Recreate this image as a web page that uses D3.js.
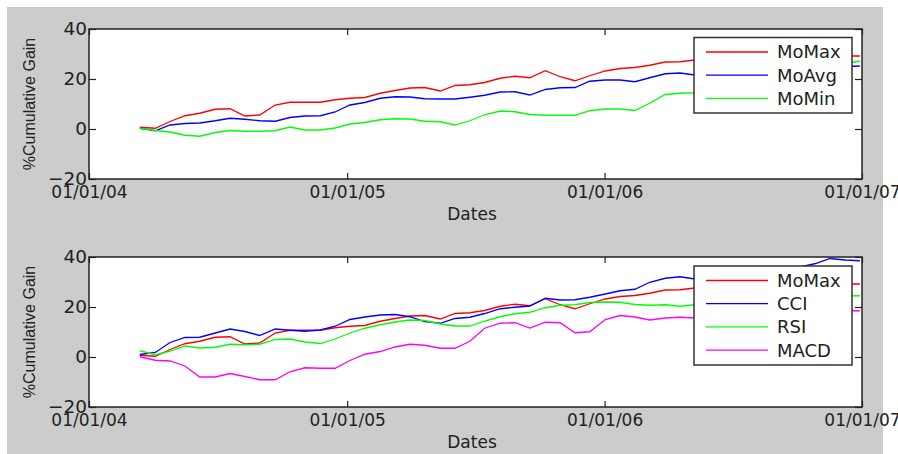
<!DOCTYPE html>
<html><head><meta charset="utf-8">
<script src="https://cdn.jsdelivr.net/npm/d3@7"></script>
<style>html,body{margin:0;padding:0;background:#fff;} svg{display:block;}</style>
</head><body><svg id="chart" width="898" height="454"></svg>
<script>
const dates = ["2004-03-13","2004-04-04","2004-04-25","2004-05-16","2004-06-06","2004-06-28","2004-07-19","2004-08-09","2004-08-30","2004-09-21",
"2004-10-12","2004-11-02","2004-11-24","2004-12-15","2005-01-05","2005-01-26","2005-02-17","2005-03-10","2005-03-31","2005-04-21",
"2005-05-13","2005-06-03","2005-06-24","2005-07-15","2005-08-06","2005-08-27","2005-09-17","2005-10-09","2005-10-30","2005-11-20",
"2005-12-11","2006-01-02","2006-01-23","2006-02-13","2006-03-06","2006-03-28","2006-04-18","2006-05-09","2006-05-31","2006-06-21",
"2006-07-12","2006-08-02","2006-08-24","2006-09-14","2006-10-05","2006-10-26","2006-11-17","2006-12-08","2006-12-29"];

const moMax = [0.7,0.3,3.0,5.3,6.3,7.9,8.1,5.2,5.6,9.6,10.7,10.7,10.7,11.7,12.3,12.6,14.3,15.4,16.4,16.6,
15.2,17.4,17.7,18.6,20.3,21.1,20.5,23.3,20.9,19.3,21.3,23.2,24.2,24.6,25.5,26.8,26.9,27.6,27.8,28.2,
27.9,28.4,28.8,28.6,29.0,29.3,28.9,29.2,29.2];
const moAvg = [0.3,-0.7,1.6,2.2,2.4,3.3,4.3,3.9,3.3,3.1,4.6,5.2,5.3,6.8,9.6,10.6,12.3,12.9,12.8,12.1,
12.0,12.0,12.7,13.5,14.8,14.9,13.6,15.8,16.5,16.6,19.1,19.6,19.6,18.9,20.5,22.1,22.4,21.6,21.9,22.6,
22.3,23.0,23.4,23.2,23.8,24.3,24.6,25.0,25.2];
const moMin = [0.3,-0.6,-1.2,-2.5,-2.9,-1.4,-0.6,-0.9,-0.9,-0.7,0.8,-0.4,-0.4,0.4,2.0,2.6,3.7,4.1,4.0,3.1,
2.9,1.6,3.3,5.7,7.2,6.9,5.8,5.5,5.5,5.5,7.3,8.0,8.0,7.4,10.3,13.8,14.3,14.5,15.5,17.0,
18.2,19.0,20.5,21.6,22.8,24.0,25.2,26.3,27.1];
const cci = [1.0,1.8,5.8,7.8,7.9,9.6,11.2,10.2,8.6,11.2,10.7,10.3,10.8,12.3,15.0,16.0,16.8,17.0,16.1,14.2,
13.5,15.4,15.9,17.4,19.3,19.9,20.4,23.5,22.8,22.9,23.9,25.2,26.5,27.1,29.9,31.5,32.1,31.2,31.8,32.5,
33.2,33.8,34.6,35.3,36.0,37.3,39.4,38.8,38.5];
const rsi = [2.5,0.9,2.3,4.4,3.6,3.9,5.1,4.9,5.1,7.0,7.2,6.0,5.4,7.2,9.6,11.5,12.9,14.0,14.8,14.6,
13.2,12.4,12.4,14.4,16.1,17.3,17.9,19.7,20.7,20.9,21.8,22.0,21.9,21.0,20.7,20.9,20.3,20.9,21.4,21.8,
22.0,22.5,22.9,23.3,23.6,23.9,24.2,24.4,24.5];
const macd = [0.1,-1.3,-1.6,-3.6,-8.0,-8.0,-6.6,-7.8,-9.1,-9.1,-5.9,-4.3,-4.5,-4.5,-1.4,1.1,2.2,4.0,5.1,4.7,
3.5,3.5,6.3,11.5,13.5,13.7,11.6,13.9,13.7,9.7,10.1,15.0,16.6,16.0,14.8,15.6,15.9,15.6,16.0,16.4,
16.2,16.8,17.2,17.0,17.5,17.9,18.2,18.4,18.5];

const xTickDates = ["2004-01-01","2005-01-01","2006-01-01","2007-01-01"];
const xTickLabels = ["01/01/04","01/01/05","01/01/06","01/01/07"];
const yTicks = [-20,0,20,40];
const topNames = ["MoMax","MoAvg","MoMin"];
const topColors = ["#ff0000","#0000ff","#00ff00"];
const bottomNames = ["MoMax","CCI","RSI","MACD"];
const bottomColors = ["#ff0000","#0000ff","#00ff00","#ff00ff"];

const parse = d3.timeParse("%Y-%m-%d");
const D = dates.map(parse);
const svg = d3.select("#chart");
svg.append("rect").attr("x",7).attr("y",7).attr("width",876).attr("height",447).attr("fill","#cccccc");

const L = 89, R = 862;
const x = d3.scaleTime().domain([parse(xTickDates[0]), parse(xTickDates[3])]).range([L, R]);
const tickFont = "'DejaVu Sans', sans-serif";

function panel(idx, top, bottom, seriesList, names, colors, legY, legH) {
  const y = d3.scaleLinear().domain([-20, 40]).range([bottom, top]);
  const g = svg.append("g");
  g.append("rect").attr("x", L).attr("y", top).attr("width", R - L).attr("height", bottom - top).attr("fill", "#fff");
  const cid = "clip" + idx;
  svg.append("clipPath").attr("id", cid).append("rect").attr("x", L).attr("y", top).attr("width", R - L).attr("height", bottom - top);
  const line = d3.line().x((d, i) => x(D[i])).y(d => y(d));
  seriesList.forEach((s, i) => {
    g.append("path").datum(s).attr("d", line).attr("fill", "none")
      .attr("stroke", colors[i]).attr("stroke-width", 1.3).attr("clip-path", `url(#${cid})`);
  });
  const tickVals = xTickDates.map(parse);
  const fmt = d => xTickLabels[tickVals.findIndex(t => +t === +d)];
  const ax = g.append("g").attr("transform", `translate(0,${bottom})`)
    .call(d3.axisBottom(x).tickValues(tickVals).tickFormat(fmt).tickSizeInner(-6).tickSizeOuter(0).tickPadding(7));
  const axT = g.append("g").attr("transform", `translate(0,${top})`)
    .call(d3.axisTop(x).tickValues(tickVals).tickFormat("").tickSizeInner(-6).tickSizeOuter(0));
  const ay = g.append("g").attr("transform", `translate(${L},0)`)
    .call(d3.axisLeft(y).tickValues(yTicks).tickSizeInner(-7).tickSizeOuter(0).tickPadding(2));
  const ayR = g.append("g").attr("transform", `translate(${R},0)`)
    .call(d3.axisRight(y).tickValues(yTicks).tickFormat("").tickSizeInner(-7).tickSizeOuter(0));
  [ax, axT, ay, ayR].forEach(a => {
    a.select(".domain").remove();
    a.selectAll("line").attr("stroke", "#222").attr("stroke-width", 1.2);
    a.selectAll("text").attr("font-family", tickFont).attr("font-size", 17).attr("fill", "#222");
  });
  ay.selectAll("text").attr("font-size", 18.5);
  g.append("rect").attr("x", L).attr("y", top).attr("width", R - L).attr("height", bottom - top)
    .attr("fill", "none").attr("stroke", "#222").attr("stroke-width", 1.5);
  g.append("text").attr("x", 472).attr("y", bottom + 40.5).attr("text-anchor", "middle")
    .attr("font-family", tickFont).attr("font-size", 17).attr("fill", "#222").text("Dates");
  g.append("text").attr("transform", `translate(29,${(top + bottom) / 2}) rotate(-90)`).attr("dy", "0.35em")
    .attr("text-anchor", "middle").attr("font-family", "'Liberation Sans', Arial, sans-serif")
    .attr("font-size", 16).attr("fill", "#222").text("%Cumulative Gain");
  // legend
  const lg = g.append("g").attr("transform", `translate(694,${legY})`);
  lg.append("rect").attr("width", 158).attr("height", legH).attr("fill", "#fff")
    .attr("stroke", "#333").attr("stroke-width", 1.5);
  names.forEach((n, i) => {
    const yy = 14.5 + i * 23.2;
    lg.append("line").attr("x1", 12).attr("x2", 74).attr("y1", yy).attr("y2", yy)
      .attr("stroke", colors[i]).attr("stroke-width", 1.3);
    lg.append("text").attr("x", 83).attr("y", yy).attr("dy", "0.36em")
      .attr("font-family", tickFont).attr("font-size", 18).attr("fill", "#222").text(n);
  });
}

panel(0, 29, 179, [moMax, moAvg, moMin], topNames, topColors, 37.5, 75.5);
panel(1, 257, 407, [moMax, cci, rsi, macd], bottomNames, bottomColors, 266, 99);
</script>
</body></html>
